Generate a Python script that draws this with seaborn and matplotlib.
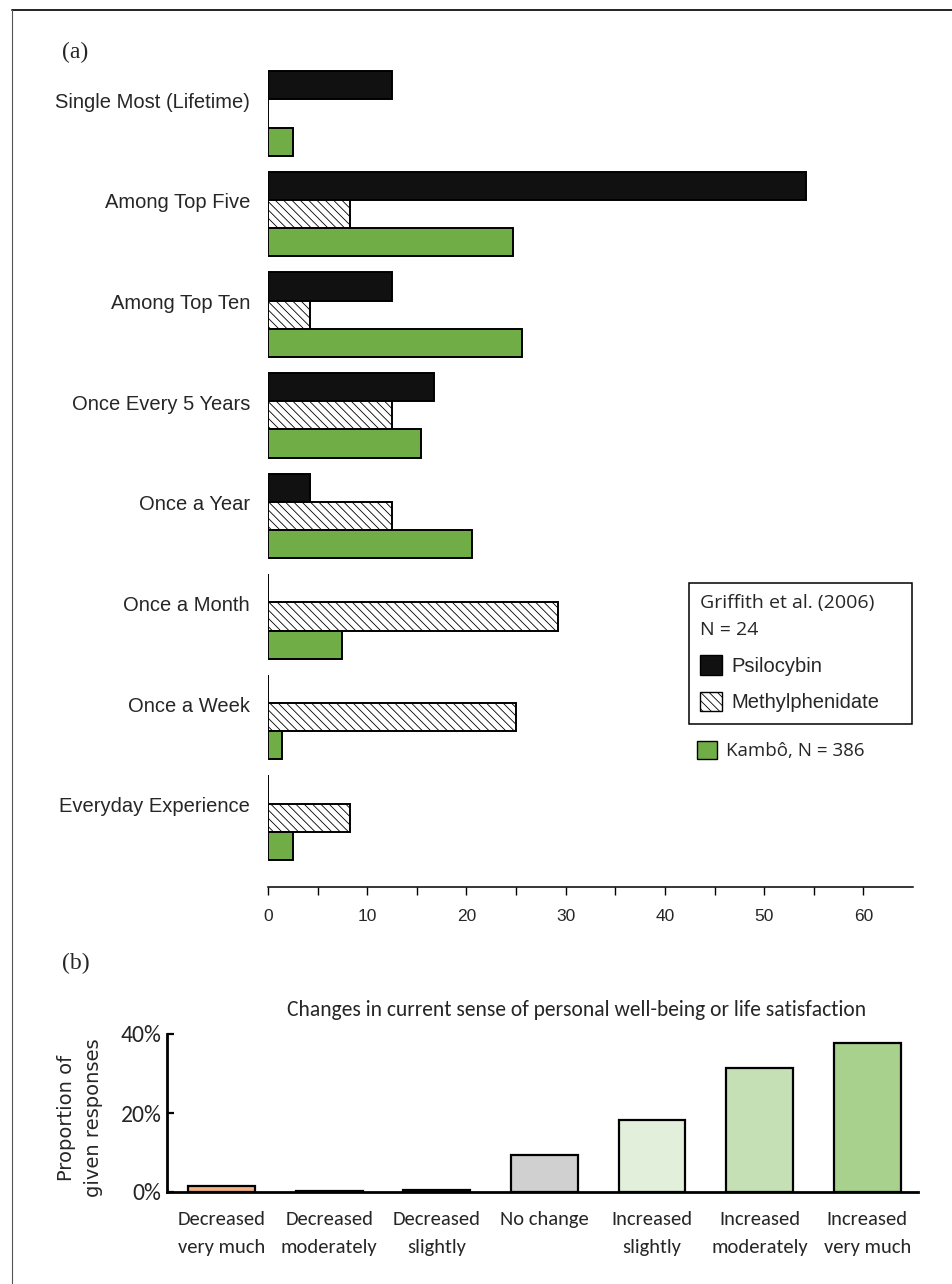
import numpy as np
import pandas as pd
import matplotlib
matplotlib.use("Agg")
import matplotlib.pyplot as plt
import seaborn as sns
from matplotlib.patches import Patch
from matplotlib.lines import Line2D

# ---- panel (a): frequency of the mystical-type experience (% of respondents)
frequency_levels = [
    "Single Most (Lifetime)",
    "Among Top Five",
    "Among Top Ten",
    "Once Every 5 Years",
    "Once a Year",
    "Once a Month",
    "Once a Week",
    "Everyday Experience",
]
psilocybin = [12.5, 54.2, 12.5, 16.7, 4.2, 0.0, 0.0, 0.0]
methylphenidate = [0.0, 8.3, 4.2, 12.5, 12.5, 29.2, 25.0, 8.3]
kambo = [2.5, 24.7, 25.6, 15.4, 20.6, 7.5, 1.4, 2.5]
drug_names = ["Psilocybin", "Methylphenidate", "Kambô"]
x_ticks_a = [0, 10, 20, 30, 40, 50, 60]

# ---- panel (b): change in well-being (share of responses, %)
wellbeing_levels = [
    "Decreased\nvery much",
    "Decreased\nmoderately",
    "Decreased\nslightly",
    "No change",
    "Increased\nslightly",
    "Increased\nmoderately",
    "Increased\nvery much",
]
wellbeing_share = [1.5, 0.3, 0.5, 9.4, 18.2, 31.4, 37.7]
y_ticks_b = [0, 20, 40]

sns.set_style("white")
plt.rcParams["hatch.linewidth"] = 0.6
plt.rcParams["font.family"] = ["Liberation Sans", "DejaVu Sans"]

ARIAL = ["Liberation Sans Narrow", "Liberation Sans", "DejaVu Sans"]
CALIBRI = ["Carlito", "Lato", "DejaVu Sans"]
SEGOE = ["Open Sans", "DejaVu Sans"]
SERIF = ["Liberation Serif", "DejaVu Serif"]

W, H = 952, 1284
fig = plt.figure(figsize=(W / 100, H / 100), dpi=100)

# ------------------------------------------------------------------ panel (a)
ax_a = fig.add_axes([268 / W, 1 - 887 / H, (913 - 268) / W, (887 - 70) / H])

df_a = pd.DataFrame({
    "level": frequency_levels * 3,
    "drug": np.repeat(drug_names, len(frequency_levels)),
    "share": psilocybin + methylphenidate + kambo,
})
drug_colors = {"Psilocybin": "#111111", "Methylphenidate": "#ffffff", "Kambô": "#70ad47"}

sns.barplot(
    data=df_a, x="share", y="level", hue="drug",
    order=frequency_levels, hue_order=drug_names, palette=drug_colors,
    orient="h", width=0.84, saturation=1, errorbar=None,
    edgecolor="black", linewidth=1.4, legend=False, ax=ax_a,
)
for bar in ax_a.containers[1]:
    bar.set_hatch("\\\\\\\\")

ax_a.set_xlim(0, 65)
ax_a.set_ylim(7.689, -0.432)
ax_a.set_xticks(x_ticks_a)
ax_a.set_xticks(np.arange(0, 61, 5), minor=True)
ax_a.set_xticklabels([str(t) for t in x_ticks_a], family=ARIAL, fontsize=12.5)
ax_a.set_yticks(np.arange(len(frequency_levels)) - 0.13)
ax_a.set_yticklabels(frequency_levels, family=ARIAL, fontsize=14.5)
ax_a.tick_params(axis="y", length=0, pad=13)
ax_a.tick_params(axis="x", which="both", direction="out", length=5.5, width=1,
                 color="black", bottom=True, pad=10)
ax_a.set_xlabel("")
ax_a.set_ylabel("")
for side in ["left", "top", "right"]:
    ax_a.spines[side].set_visible(False)
ax_a.spines["bottom"].set_color("black")
ax_a.spines["bottom"].set_linewidth(1.1)

# legend: Griffith et al. group in a box, Kambô entry underneath
handles_g = [
    Patch(facecolor="#111111", edgecolor="black", linewidth=1),
    Patch(facecolor="white", edgecolor="black", linewidth=1, hatch="\\\\\\\\"),
]
leg = ax_a.legend(
    handles_g, ["Psilocybin", "Methylphenidate"],
    title="Griffith et al. (2006)\nN = 24",
    title_fontproperties={"family": SEGOE, "size": 14},
    prop={"family": ARIAL, "size": 14.5},
    loc="upper left", mode="expand",
    bbox_to_anchor=(689 / W, 1 - 729 / H, (912 - 689) / W, (729 - 583) / H),
    bbox_transform=fig.transFigure, alignment="left",
    frameon=True, fancybox=False, edgecolor="black", framealpha=1,
    handlelength=1.1, handleheight=1.1, handletextpad=0.45,
    borderpad=0.55, labelspacing=0.8, borderaxespad=0,
)
leg.get_frame().set_linewidth(1.1)
leg.get_title().set_linespacing(1.65)
ax_a.add_artist(leg)
ax_a.legend(
    [Patch(facecolor="#70ad47", edgecolor="black", linewidth=1)],
    ["Kambô, N = 386"],
    prop={"family": SEGOE, "size": 13.5},
    loc="upper left", bbox_to_anchor=(689 / W, 1 - 733 / H),
    bbox_transform=fig.transFigure, frameon=False,
    handlelength=1.1, handleheight=1.1, handletextpad=0.45, borderaxespad=0,
    borderpad=0.4,
)

# ------------------------------------------------------------------ panel (b)
ax_b = fig.add_axes([167 / W, 1 - 1192 / H, (918 - 167) / W, (1192 - 1034) / H])
wellbeing_colors = ["#f4b183", "#f8cbad", "#fbe5d6", "#d0d0d0",
                    "#e2efda", "#c5e0b4", "#a9d18e"]
sns.barplot(
    x=wellbeing_levels, y=wellbeing_share, hue=wellbeing_levels,
    palette=wellbeing_colors, legend=False, width=0.62, saturation=1,
    errorbar=None, edgecolor="black", linewidth=1.6, ax=ax_b,
)
ax_b.set_ylim(0, 40)
ax_b.set_xlim(-0.506, 6.47)
ax_b.set_yticks(y_ticks_b)
ax_b.set_yticklabels([f"{t}%" for t in y_ticks_b], family=CALIBRI, fontsize=17)
ax_b.set_xticks(range(len(wellbeing_levels)))
ax_b.set_xticklabels(wellbeing_levels, family=CALIBRI, fontsize=14.8, linespacing=1.75)
ax_b.tick_params(axis="x", length=0, pad=14)
ax_b.tick_params(axis="y", direction="in", length=5, width=1.6, color="black",
                 left=True, pad=4)
ax_b.set_xlabel("")
ax_b.set_ylabel("Proportion of\ngiven responses", family=["DejaVu Sans"],
                fontsize=14, linespacing=1.55)
ax_b.yaxis.set_label_coords((103 - 167) / 751, (1192 - 1118) / 158)
for side in ["top", "right"]:
    ax_b.spines[side].set_visible(False)
for side in ["left", "bottom"]:
    ax_b.spines[side].set_color("black")
    ax_b.spines[side].set_linewidth(2)

fig.text(577 / W, 1 - 1010 / H,
         "Changes in current sense of personal well-being or life satisfaction",
         family=CALIBRI, fontsize=15.5, ha="center", va="center")

# panel letters
fig.text(62 / W, 1 - 52 / H, "(a)", family=SERIF, fontsize=17, ha="left", va="center")
fig.text(62 / W, 1 - 963 / H, "(b)", family=SERIF, fontsize=17, ha="left", va="center")

# outer frame (top and left edges)
fig.add_artist(Line2D([12 / W, 1], [1 - 10 / H, 1 - 10 / H], transform=fig.transFigure,
                      color="#222222", linewidth=1.4))
fig.add_artist(Line2D([12 / W, 12 / W], [0, 1 - 10 / H], transform=fig.transFigure,
                      color="#555555", linewidth=0.8))

fig.savefig("out.png", dpi=100)
